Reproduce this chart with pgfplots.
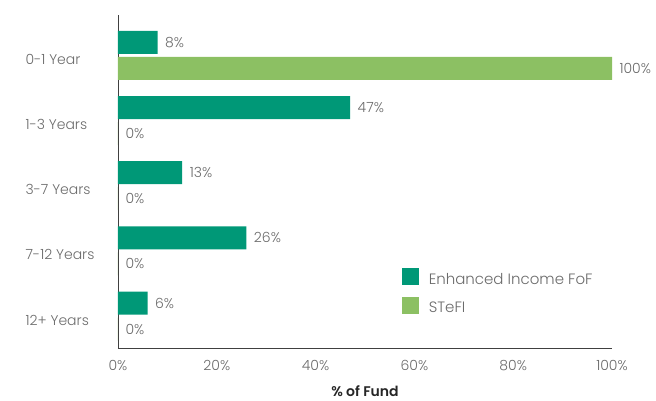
\documentclass[border=0pt]{standalone}
\usepackage{pgfplots}
\pgfplotsset{compat=1.18}
\usepackage{fontspec}
\setmainfont{Poppins}[UprightFont=* Light, BoldFont=* SemiBold]
\definecolor{teal1}{HTML}{009877}
\definecolor{green1}{HTML}{8CC063}
\definecolor{txt}{HTML}{6B6B6B}
\begin{document}
\begin{tikzpicture}
\begin{axis}[
  name=ax,
  scale only axis,
  width=494pt, height=333pt,
  xbar,
  xmin=0, xmax=100,
  ymin=-0.62, ymax=4.49,
  y dir=reverse,
  ytick={0,1,2,3,4},
  yticklabels={0-1 Year,1-3 Years,3-7 Years,7-12 Years,12+ Years},
  xtick={0,20,40,60,80,100},
  xticklabel={\pgfmathprintnumber{\tick}\%},
  /pgf/number format/assume math mode=true,
  axis x line*=bottom,
  axis y line*=left,
  axis line style={draw=black!75, line width=0.8pt},
  major tick length=0pt,
  tick label style={font=\fontsize{14}{16}\selectfont, text=txt},
  yticklabel style={anchor=west, xshift=-96pt, yshift=-4pt},
  xticklabel style={yshift=-9pt},
  xlabel={\textbf{\% of Fund}},
  xlabel style={font=\fontsize{14}{16}\selectfont, text=black!85, yshift=-8pt},
  bar width=23pt,
  nodes near coords={\pgfmathprintnumber{\pgfplotspointmeta}\%},
  point meta=x,
  every node near coord/.append style={font=\fontsize{14}{16}\selectfont, text=txt, anchor=west, xshift=4pt},
  legend style={draw=none, at={(0.568,0.246)}, anchor=north west, font=\fontsize{15}{17}\selectfont, text=txt, row sep=9pt},
  legend cell align=left,
  legend image code/.code={\fill[#1] (0pt,-6pt) rectangle (17pt,11pt);},
]
\addplot[fill=teal1, draw=none, bar shift=13pt] coordinates {(8,0) (47,1) (13,2) (26,3) (6,4)};
\addplot[fill=green1, draw=none, bar shift=-13pt] coordinates {(100,0) (0,1) (0,2) (0,3) (0,4)};
\legend{\hspace{8pt}Enhanced Income FoF,\hspace{8pt}STeFI}
\end{axis}
\pgfresetboundingbox
\path[use as bounding box] ([shift={(-118pt,-53pt)}]ax.south west) rectangle ([shift={(44pt,15pt)}]ax.north east);
\end{tikzpicture}
\end{document}
